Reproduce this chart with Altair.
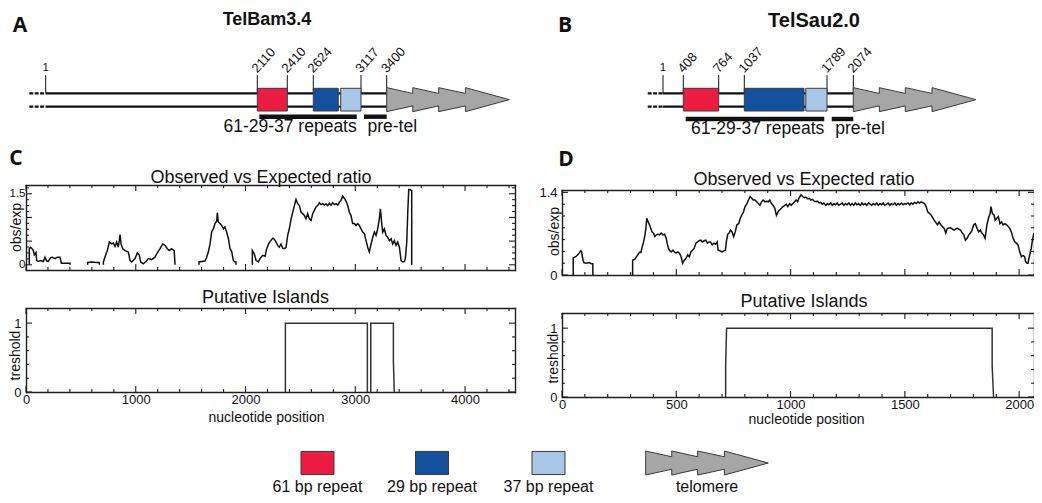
import altair as alt
import pandas as pd

# ------------------------------------------------------------------ data
# Panel A: TelBam3.4 landmarks (nucleotide positions)
A_MARKS = [1, 2110, 2410, 2624, 3117, 3400]
A_BOX_START = [2110, 2624, 2907]
A_BOX_END = [2410, 2882, 3117]
A_BAR_START = [2130, 3150]
A_BAR_END = [3073, 3400]

# Panel B: TelSau2.0 landmarks
B_MARKS = [1, 408, 764, 1037, 1789, 2074]
B_BOX_START = [408, 1037, 1596]
B_BOX_END = [764, 1580, 1789]
B_BAR_START = [432, 1840]
B_BAR_END = [1764, 2074]

BAR_LABELS = ["61-29-37 repeats", "pre-tel"]
REPEAT_KINDS = ["61 bp repeat", "29 bp repeat", "37 bp repeat", "telomere"]

# Panel C: observed/expected ratio, TelBam3.4 (position, ratio) per segment
C_S1 = [(30, 0), (30, 0.34), (40, 0.37), (52, 0.35), (67, 0.30), (76, 0.21), (91, 0.26), (97, 0.09),
        (112, 0.07), (134, 0.09), (158, 0.07), (173, 0.16), (188, 0.08), (203, 0.07), (225, 0.15),
        (240, 0.16), (264, 0.13), (285, 0.16), (310, 0.16), (322, 0.03), (355, 0.03), (401, 0.03), (401, 0)]
C_S2 = [(562, 0), (562, 0.05), (600, 0.06), (640, 0.05), (668, 0.05), (668, 0)]
C_S3 = [(705, 0), (705, 0.06), (729, 0.23), (741, 0.30), (759, 0.48), (781, 0.44), (796, 0.46), (811, 0.39),
        (826, 0.48), (841, 0.37), (857, 0.64), (866, 0.44), (881, 0.34), (902, 0.30), (932, 0.27),
        (948, 0.09), (963, 0.06), (993, 0.13), (1014, 0.25), (1033, 0.20), (1045, 0.06), (1069, 0.02),
        (1093, 0.07), (1115, 0.13), (1145, 0.11), (1175, 0.16), (1191, 0.23), (1221, 0.34), (1245, 0.44),
        (1266, 0.41), (1288, 0.34), (1306, 0.30), (1327, 0.34), (1350, 0.30), (1358, 0)]
C_S4 = [(1576, 0), (1576, 0.06), (1631, 0.08), (1646, 0.16), (1661, 0.27), (1677, 0.44), (1692, 0.70),
        (1707, 0.76), (1722, 0.87), (1737, 0.92), (1743, 1.10), (1752, 0.90), (1768, 0.87), (1783, 0.83),
        (1798, 0.76), (1813, 0.80), (1828, 0.69), (1844, 0.55), (1859, 0.34), (1874, 0.28), (1889, 0.09),
        (1904, 0.06), (1913, 0.06), (1913, 0)]
C_S5 = [(2062, 0), (2062, 0.30), (2080, 0.23), (2096, 0.09), (2117, 0.06), (2132, 0.13), (2156, 0.20),
        (2178, 0.18), (2193, 0.34), (2210, 0.44), (2223, 0.49), (2248, 0.56), (2263, 0.54), (2278, 0.48),
        (2293, 0.41), (2308, 0.37), (2323, 0.44), (2339, 0.35), (2354, 0.34), (2369, 0.37), (2384, 0.62),
        (2399, 0.76), (2415, 0.97), (2430, 1.11), (2445, 1.25), (2460, 1.38), (2475, 1.29), (2491, 1.25),
        (2506, 1.11), (2521, 1.08), (2536, 1.04), (2551, 0.97), (2566, 1.08), (2582, 0.97), (2597, 0.94),
        (2612, 1.08), (2627, 1.15), (2642, 1.22), (2658, 1.25), (2673, 1.31), (2688, 1.27), (2703, 1.29),
        (2718, 1.26), (2733, 1.29), (2748, 1.25), (2764, 1.30), (2779, 1.26), (2794, 1.31), (2810, 1.27),
        (2825, 1.29), (2840, 1.26), (2855, 1.32), (2870, 1.36), (2885, 1.45), (2901, 1.40), (2916, 1.34),
        (2931, 1.25), (2946, 1.11), (2961, 1.04), (2976, 0.87), (2992, 0.87), (3007, 0.83), (3022, 0.87),
        (3037, 0.83), (3052, 0.76), (3068, 0.69), (3083, 0.66), (3098, 0.51), (3113, 0.37), (3128, 0.27),
        (3144, 0.44), (3159, 0.58), (3174, 0.69), (3189, 0.62), (3204, 0.76), (3219, 0.97), (3229, 1.18),
        (3241, 0.87), (3250, 0.69), (3265, 0.76), (3280, 0.62), (3295, 0.58), (3311, 0.51), (3326, 0.55),
        (3341, 0.44), (3356, 0.51), (3371, 0.41), (3386, 0.48), (3402, 0.37), (3417, 0.09), (3432, 0.06),
        (3447, 0.07), (3456, 0.13), (3469, 0.48), (3478, 1.11), (3487, 1.59), (3499, 1.59), (3508, 1.57),
        (3514, 1.57), (3514, 0)]

# Panel C: putative islands
C_ISL1 = [(2363, 0), (2363, 1), (3110, 1), (3110, 0)]
C_ISL2 = [(3141, 0), (3141, 1), (3347, 1), (3347, 0.45), (3355, 0)]

# Panel D: observed/expected ratio, TelSau2.0
D_S1 = [(49, 0), (49, 0.29), (60, 0.31), (68, 0.34), (75, 0.37), (82, 0.41), (86, 0.39), (92, 0.25),
        (96, 0.21), (104, 0.20), (118, 0.21), (129, 0.19), (135, 0.19), (135, 0)]
D_S2 = [(309, 0), (309, 0.25), (319, 0.27), (331, 0.34), (337, 0.37), (341, 0.39), (345, 0.38), (351, 0.48),
        (357, 0.56), (363, 0.68), (367, 0.79), (371, 0.96), (377, 0.90), (383, 0.85), (388, 0.79),
        (394, 0.73), (400, 0.71), (406, 0.65), (413, 0.68), (420, 0.69), (427, 0.68), (434, 0.71),
        (442, 0.68), (449, 0.69), (456, 0.62), (460, 0.54), (466, 0.45), (470, 0.42), (478, 0.39),
        (485, 0.42), (492, 0.39), (499, 0.37), (506, 0.39), (514, 0.37), (521, 0.31), (528, 0.20),
        (535, 0.25), (542, 0.28), (550, 0.34), (557, 0.31), (564, 0.39), (571, 0.42), (578, 0.45),
        (586, 0.54), (593, 0.56), (600, 0.58), (607, 0.59), (614, 0.56), (622, 0.58), (629, 0.59),
        (636, 0.54), (643, 0.56), (650, 0.56), (657, 0.51), (665, 0.54), (672, 0.52), (679, 0.56),
        (683, 0.42), (691, 0.41), (701, 0.39), (708, 0.41), (715, 0.42), (719, 0.56), (725, 0.69),
        (731, 0.71), (737, 0.76), (744, 0.73), (751, 0.65), (758, 0.73), (765, 0.85), (773, 0.87),
        (780, 0.96), (787, 1.02), (794, 1.07), (801, 1.16), (809, 1.21), (816, 1.27), (823, 1.33),
        (830, 1.30), (837, 1.27), (844, 1.27), (852, 1.24), (859, 1.21), (866, 1.18), (873, 1.24),
        (880, 1.27), (888, 1.24), (895, 1.25), (902, 1.24), (909, 1.27), (916, 1.21), (924, 1.18),
        (931, 1.13), (938, 1.01), (945, 1.07), (952, 1.10), (960, 1.13), (967, 1.16), (974, 1.18),
        (981, 1.20), (988, 1.16), (996, 1.21), (1003, 1.18), (1010, 1.21), (1017, 1.24), (1024, 1.27),
        (1031, 1.24), (1036, 1.30), (1046, 1.36), (1053, 1.33), (1060, 1.31), (1067, 1.32), (1075, 1.29),
        (1082, 1.30), (1089, 1.27), (1096, 1.28), (1104, 1.25), (1111, 1.24), (1118, 1.25), (1125, 1.22),
        (1132, 1.23), (1139, 1.20), (1146, 1.22), (1154, 1.18), (1161, 1.21), (1168, 1.19), (1176, 1.22),
        (1183, 1.18), (1190, 1.21), (1197, 1.19), (1204, 1.22), (1211, 1.18), (1219, 1.20), (1226, 1.22),
        (1233, 1.18), (1240, 1.21), (1247, 1.19), (1255, 1.22), (1262, 1.18), (1269, 1.21), (1276, 1.18),
        (1283, 1.22), (1290, 1.19), (1297, 1.21), (1305, 1.18), (1312, 1.22), (1319, 1.19), (1326, 1.21),
        (1333, 1.18), (1341, 1.22), (1348, 1.20), (1355, 1.18), (1362, 1.21), (1370, 1.19), (1377, 1.22),
        (1384, 1.18), (1391, 1.21), (1398, 1.19), (1405, 1.22), (1412, 1.18), (1420, 1.20), (1427, 1.22),
        (1434, 1.18), (1441, 1.21), (1448, 1.19), (1456, 1.22), (1463, 1.18), (1470, 1.21), (1477, 1.19),
        (1485, 1.22), (1492, 1.19), (1499, 1.21), (1506, 1.20), (1514, 1.22), (1521, 1.19), (1528, 1.22),
        (1535, 1.20), (1542, 1.23), (1550, 1.21), (1557, 1.24), (1564, 1.22), (1571, 1.24), (1586, 1.21),
        (1593, 1.16), (1600, 1.07), (1614, 1.02), (1628, 0.93), (1643, 0.85), (1650, 0.90), (1657, 0.85),
        (1672, 0.79), (1679, 0.71), (1686, 0.79), (1700, 0.80), (1715, 0.76), (1729, 0.79), (1744, 0.76),
        (1751, 0.71), (1758, 0.68), (1765, 0.59), (1772, 0.62), (1780, 0.68), (1787, 0.71), (1794, 0.76),
        (1801, 0.85), (1808, 0.87), (1816, 0.79), (1823, 0.73), (1830, 0.76), (1837, 0.71), (1844, 0.68),
        (1851, 0.62), (1859, 0.85), (1866, 0.96), (1873, 1.04), (1877, 1.16), (1883, 1.04), (1890, 1.02),
        (1895, 0.93), (1902, 0.96), (1909, 0.99), (1916, 0.87), (1923, 0.90), (1930, 0.85), (1938, 0.87),
        (1945, 0.85), (1952, 0.82), (1959, 0.79), (1966, 0.73), (1974, 0.62), (1981, 0.56), (1988, 0.54),
        (1995, 0.51), (2003, 0.39), (2010, 0.31), (2017, 0.33), (2024, 0.31), (2028, 0.23), (2034, 0.20),
        (2039, 0.20), (2043, 0.28), (2049, 0.39), (2053, 0.45), (2057, 0.56), (2063, 0.68), (2067, 0.71),
        (2070, 0.71), (2070, 0)]

# Panel D: putative islands
D_ISL1 = [(716, 0), (716, 0.45), (720, 1), (1882, 1), (1882, 0.45), (1888, 0)]

# Axis ticks and labels
C_X_MINOR = [200, 400, 600, 800, 1200, 1400, 1600, 1800, 2200, 2400, 2600, 2800, 3200, 3400, 3600,
             3800, 4200, 4400]
C_X_MAJOR = [0, 1000, 2000, 3000, 4000]
D_X_MINOR = [100, 200, 300, 400, 600, 700, 800, 900, 1100, 1200, 1300, 1400, 1600, 1700, 1800, 1900]
D_X_MAJOR = [0, 500, 1000, 1500, 2000]
C_OBS_Y_MINOR = [0.125, 0.25, 0.375, 0.625, 0.75, 0.875, 1.125, 1.25, 1.375, 1.625]
C_OBS_Y_MAJOR = [0, 0.5, 1.0, 1.5]
C_OBS_Y_LABELS = [0, 1.5]
D_OBS_Y_MINOR = [0.2, 0.4, 0.6, 0.8, 1.0, 1.2]
D_OBS_Y_MAJOR = [0, 1.4]
D_OBS_Y_LABELS = [0, 1.4]
ISL_Y_MINOR = [0.2, 0.4, 0.6, 0.8]
ISL_Y_MAJOR = [0, 1.0]
ISL_Y_LABELS = [0, 1]

# ------------------------------------------------------------------ style / layout
W, H = 1026, 487


def V(p):
    return round(p - 8, 2)


FONT = "Liberation Sans"
LETTER_FONT = "Open Sans"
INK = "#111111"
FRAME = "#1e1e1e"
OUTLINE = "#3a3a3a"
COLORS = ["#ec1b42", "#13519e", "#a9c8e7", "#a6a6a6"]
color_scale = alt.Scale(domain=REPEAT_KINDS, range=COLORS)
TELO_LEFT = ("M0,-1L2.17,-0.52L2.17,-1L4.33,-0.52L4.33,-1L6.56,-0.52L6.56,-1L10.22,0L6.56,1L6.56,0.52"
             "L4.33,1L4.33,0.52L2.17,1L2.17,0.52L0,1Z")
TELO_MID = ("M-5.11,-1L-2.94,-0.52L-2.94,-1L-0.78,-0.52L-0.78,-1L1.45,-0.52L1.45,-1L5.11,0L1.45,1"
            "L1.45,0.52L-0.78,1L-0.78,0.52L-2.94,1L-2.94,0.52L-5.11,1Z")
BOX_SHAPE = "M-1,-0.7L1,-0.7L1,0.7L-1,0.7Z"
NUM_LABEL = "'' + datum.value"
MAJOR_LEN, MINOR_LEN = 6, 3

layers = []


def text_layer(text, x, y, size, weight="normal", font=FONT):
    return alt.Chart(pd.DataFrame({"t": [text]})).mark_text(
        font=font, fontSize=size, fontWeight=weight, color=INK, align="center", baseline="middle"
    ).encode(x=alt.value(V(x)), y=alt.value(V(y)), text="t:N")


def diagram(marks, pix, box_start, box_end, bar_start, bar_end, dash_len, strand_y, box_y,
            lead_top, bar_y, text_y):
    sc = alt.Scale(domain=marks, range=[V(p) for p in pix], nice=False, zero=False)

    def X(f):
        return alt.X(f + ":Q", scale=sc, axis=None)

    ysc = alt.Scale(domain=[0, 1], range=[V(strand_y[0]), V(strand_y[1])], nice=False, zero=False)
    Ys = alt.Y("strand:Q", scale=ysc, axis=None)
    out = []
    strands = pd.DataFrame({"start": [marks[0]] * 2, "end": [marks[-1]] * 2, "strand": [0, 1]})
    out.append(alt.Chart(strands).mark_rule(color=INK, strokeWidth=2.2).encode(
        x=X("start"), x2="end", y=Ys))
    out.append(alt.Chart(strands).mark_rule(color=INK, strokeWidth=2.2, strokeDash=[4, 1.4],
                                            xOffset=-dash_len).encode(x=X("start"), x2="start", y=Ys))
    lead = pd.DataFrame({"pos": marks, "label": [str(m) for m in marks]})
    out.append(alt.Chart(lead).mark_rule(color=INK, strokeWidth=1).encode(
        x=X("pos"), y=alt.value(V(lead_top)), y2=alt.value(V(strand_y[0]))))
    out.append(alt.Chart(lead).transform_filter("datum.pos == 1").mark_text(
        font=FONT, fontSize=11.5, color=INK, align="center", baseline="bottom").encode(
        x=X("pos"), y=alt.value(V(lead_top - 2)), text="label:N"))
    out.append(alt.Chart(lead).transform_filter("datum.pos > 1").mark_text(
        font=FONT, fontSize=13, color=INK, align="left", baseline="alphabetic", angle=312).encode(
        x=X("pos"), y=alt.value(V(lead_top - 1.5)), text="label:N"))
    boxes = pd.DataFrame({"kind": REPEAT_KINDS[:3], "start": box_start, "end": box_end})
    out.append(alt.Chart(boxes).mark_rect(stroke=OUTLINE, strokeWidth=1).encode(
        x=X("start"), x2="end", y=alt.value(V(box_y[0])), y2=alt.value(V(box_y[1])),
        fill=alt.Fill("kind:N", scale=color_scale, legend=None)))
    telo = pd.DataFrame({"pos": [marks[-1]]})
    out.append(alt.Chart(telo).mark_point(shape=TELO_LEFT, size=576, filled=True, fill=COLORS[3],
                                          stroke=OUTLINE, strokeWidth=1, opacity=1).encode(
        x=X("pos"), y=alt.value(V((box_y[0] + box_y[1]) / 2))))
    bars = pd.DataFrame({"label": BAR_LABELS, "start": bar_start, "end": bar_end})
    out.append(alt.Chart(bars).mark_rule(color=INK, strokeWidth=4.4).encode(
        x=X("start"), x2="end", y=alt.value(V(bar_y))))
    out.append(alt.Chart(bars).transform_filter("datum.label != 'pre-tel'").mark_text(
        font=FONT, fontSize=17.5, color=INK, align="right", baseline="middle").encode(
        x=X("end"), y=alt.value(V(text_y)), text="label:N"))
    out.append(alt.Chart(bars).transform_filter("datum.label == 'pre-tel'").mark_text(
        font=FONT, fontSize=17.5, color=INK, align="left", baseline="middle", dx=3.5).encode(
        x=X("start"), y=alt.value(V(text_y)), text="label:N"))
    return out


def trace_df(segments):
    rows = []
    for i, seg in enumerate(segments):
        for j, (p, v) in enumerate(seg):
            rows.append({"seg": i, "ord": j, "pos": p, "val": v})
    return pd.DataFrame(rows)


def frame_axis(orient, offset):
    return alt.Axis(orient=orient, offset=offset, labels=False, title=None, grid=False, ticks=False,
                    tickSize=0, domain=True, domainColor=FRAME, domainWidth=1.4, domainCap="square")


def panel(segments, xdom, xr, ydom, yr, xmajor, xminor, ymajor, yminor, xlabels, ylabels,
          ytitle, ytitle_xy, xtitle_xy, color, width, ylab_size=13, ylab_pad=5):
    xl, xrr = V(xr[0]), V(xr[1])
    yb, yt = V(yr[0]), V(yr[1])
    xsc = alt.Scale(domain=xdom, range=[xl, xrr], nice=False, zero=False)
    ysc = alt.Scale(domain=ydom, range=[yb, yt], nice=False, zero=False)
    bounds = pd.DataFrame({"pos": xdom, "val": ydom})
    out = []

    # frame: bottom + left from the trace layer, top + right from a helper layer
    out.append(alt.Chart(trace_df(segments)).mark_line(color=color, strokeWidth=width).encode(
        x=alt.X("pos:Q", scale=xsc, axis=frame_axis("top", -yb)),
        y=alt.Y("val:Q", scale=ysc, axis=frame_axis("right", xl - W)),
        detail="seg:N", order="ord:Q"))
    out.append(alt.Chart(bounds).mark_point(opacity=0, size=1).encode(
        x=alt.X("pos:Q", scale=xsc, axis=frame_axis("bottom", yt - H)),
        y=alt.Y("val:Q", scale=ysc, axis=frame_axis("left", -xrr))))

    # inward tick marks on all four sides
    for vals, ln in ((xmajor, MAJOR_LEN), (xminor, MINOR_LEN)):
        tdf = pd.DataFrame({"v": vals})
        TX = alt.X("v:Q", scale=xsc, axis=None)
        out.append(alt.Chart(tdf).mark_rule(color=FRAME, strokeWidth=1.1).encode(
            x=TX, y=alt.value(yb), y2=alt.value(yb - ln)))
        out.append(alt.Chart(tdf).mark_rule(color=FRAME, strokeWidth=1.1).encode(
            x=TX, y=alt.value(yt), y2=alt.value(yt + ln)))
    for vals, ln in ((ymajor, MAJOR_LEN), (yminor, MINOR_LEN)):
        tdf = pd.DataFrame({"v": vals})
        TY = alt.Y("v:Q", scale=ysc, axis=None)
        out.append(alt.Chart(tdf).mark_rule(color=FRAME, strokeWidth=1.1).encode(
            y=TY, x=alt.value(xl), x2=alt.value(xl + ln)))
        out.append(alt.Chart(tdf).mark_rule(color=FRAME, strokeWidth=1.1).encode(
            y=TY, x=alt.value(xrr), x2=alt.value(xrr - ln)))

    # tick labels and axis titles
    xa = None
    if xlabels:
        xa = alt.Axis(orient="bottom", offset=yb - H, values=xlabels, ticks=False, tickSize=0, domain=False,
                      grid=False, labelPadding=1, labelFlush=False, labelOverlap=False, labelExpr=NUM_LABEL,
                      title="nucleotide position", titleX=V(xtitle_xy[0]), titleY=xtitle_xy[1] - yr[0],
                      titleAlign="center", titleBaseline="middle", titleAngle=0)
    ya = alt.Axis(orient="left", offset=-xl, values=ylabels, ticks=False, tickSize=0, domain=False,
                  grid=False, labelPadding=ylab_pad, labelFontSize=ylab_size, labelFlush=False,
                  labelOverlap=False, labelExpr=NUM_LABEL,
                  title=ytitle, titleX=V(ytitle_xy[0]) - xl, titleY=V(ytitle_xy[1]),
                  titleAlign="center", titleBaseline="middle", titleAngle=270)
    out.append(alt.Chart(bounds).mark_point(opacity=0, size=1).encode(
        x=alt.X("pos:Q", scale=xsc, axis=xa), y=alt.Y("val:Q", scale=ysc, axis=ya)))
    return out


# ------------------------------------------------------------------ assemble
layers += diagram(A_MARKS, [45.7, 257.3, 287.3, 313.3, 361, 386.7], A_BOX_START, A_BOX_END,
                  A_BAR_START, A_BAR_END, 16.4, (93.3, 106.7), (88.3, 111), 75, 116.7, 127)
layers += diagram(B_MARKS, [663, 683.3, 718.7, 744.3, 827, 853.3], B_BOX_START, B_BOX_END,
                  B_BAR_START, B_BAR_END, 15.3, (93.3, 106.7), (88.3, 111), 75, 119, 129)

layers += panel([C_S1, C_S2, C_S3, C_S4, C_S5], [0, 4455], (26, 515), [-0.11, 1.685], (270, 185),
                C_X_MAJOR, C_X_MINOR, C_OBS_Y_MAJOR, C_OBS_Y_MINOR, None, C_OBS_Y_LABELS,
                "obs/exp", (16, 227), None, INK, 1.5, ylab_size=11.5, ylab_pad=1)
layers += panel([C_ISL1, C_ISL2], [0, 4455], (26, 515), [0, 1.22], (392, 308),
                C_X_MAJOR, C_X_MINOR, ISL_Y_MAJOR, ISL_Y_MINOR, C_X_MAJOR, ISL_Y_LABELS,
                "treshold", (15.5, 355), (266, 417), "#333333", 1.5)
layers += panel([D_S1, D_S2], [0, 2065], (562, 1034), [0, 1.44], (275, 190),
                D_X_MAJOR, D_X_MINOR, D_OBS_Y_MAJOR, D_OBS_Y_MINOR, None, D_OBS_Y_LABELS,
                "obs/exp", (554, 231), None, INK, 1.5)
layers += panel([D_ISL1], [0, 2065], (562, 1034), [0, 1.22], (397, 313),
                D_X_MAJOR, D_X_MINOR, ISL_Y_MAJOR, ISL_Y_MINOR, D_X_MAJOR, ISL_Y_LABELS,
                "treshold", (553.5, 358), (806, 419), "#333333", 1.5)

# titles and panel letters
layers += [
    text_layer("A", 20, 25.5, 21, "bold", LETTER_FONT),
    text_layer("B", 565, 26, 21, "bold", LETTER_FONT),
    text_layer("C", 16, 158.5, 21, "bold", LETTER_FONT),
    text_layer("D", 566, 159.5, 21, "bold", LETTER_FONT),
    text_layer("TelBam3.4", 267, 19.5, 18, "bold"),
    text_layer("TelSau2.0", 814, 20.5, 20, "bold"),
    text_layer("Observed vs Expected ratio", 261, 177.5, 18),
    text_layer("Observed vs Expected ratio", 804, 180, 18),
    text_layer("Putative Islands", 265.5, 297.5, 18),
    text_layer("Putative Islands", 804, 302, 18),
]

# legend
LEG_IDX = [0, 1, 2, 3]
leg = pd.DataFrame({"idx": LEG_IDX, "kind": REPEAT_KINDS})
lsc = alt.Scale(domain=LEG_IDX, range=[V(p) for p in [317.5, 432, 548.5, 707]], nice=False, zero=False)
LX = alt.X("idx:Q", scale=lsc, axis=None)
layers.append(alt.Chart(leg).transform_filter("datum.idx < 3").mark_point(
    shape=BOX_SHAPE, size=1089, filled=True, stroke=OUTLINE, strokeWidth=1, opacity=1).encode(
    x=LX, y=alt.value(V(463)), fill=alt.Fill("kind:N", scale=color_scale, legend=None)))
layers.append(alt.Chart(leg).transform_filter("datum.idx == 3").mark_point(
    shape=TELO_MID, size=576, filled=True, fill=COLORS[3], stroke=OUTLINE, strokeWidth=1, opacity=1).encode(
    x=LX, y=alt.value(V(463))))
layers.append(alt.Chart(leg).mark_text(font=FONT, fontSize=16, color=INK, align="center",
                                       baseline="middle").encode(
    x=LX, y=alt.value(V(486.5)), text="kind:N"))

chart = alt.layer(*layers).properties(
    width=W, height=H, padding=0, autosize=alt.AutoSizeParams(type="none")
).resolve_scale(x="independent", y="independent").resolve_axis(
    x="independent", y="independent"
).configure_view(stroke=None).configure_axis(
    labelFont=FONT, titleFont=FONT, labelFontSize=13, titleFontSize=14, labelColor=INK,
    titleColor=INK, titleFontWeight="normal"
)

chart.save("out.html", embed_options={"renderer": "svg", "actions": False})
